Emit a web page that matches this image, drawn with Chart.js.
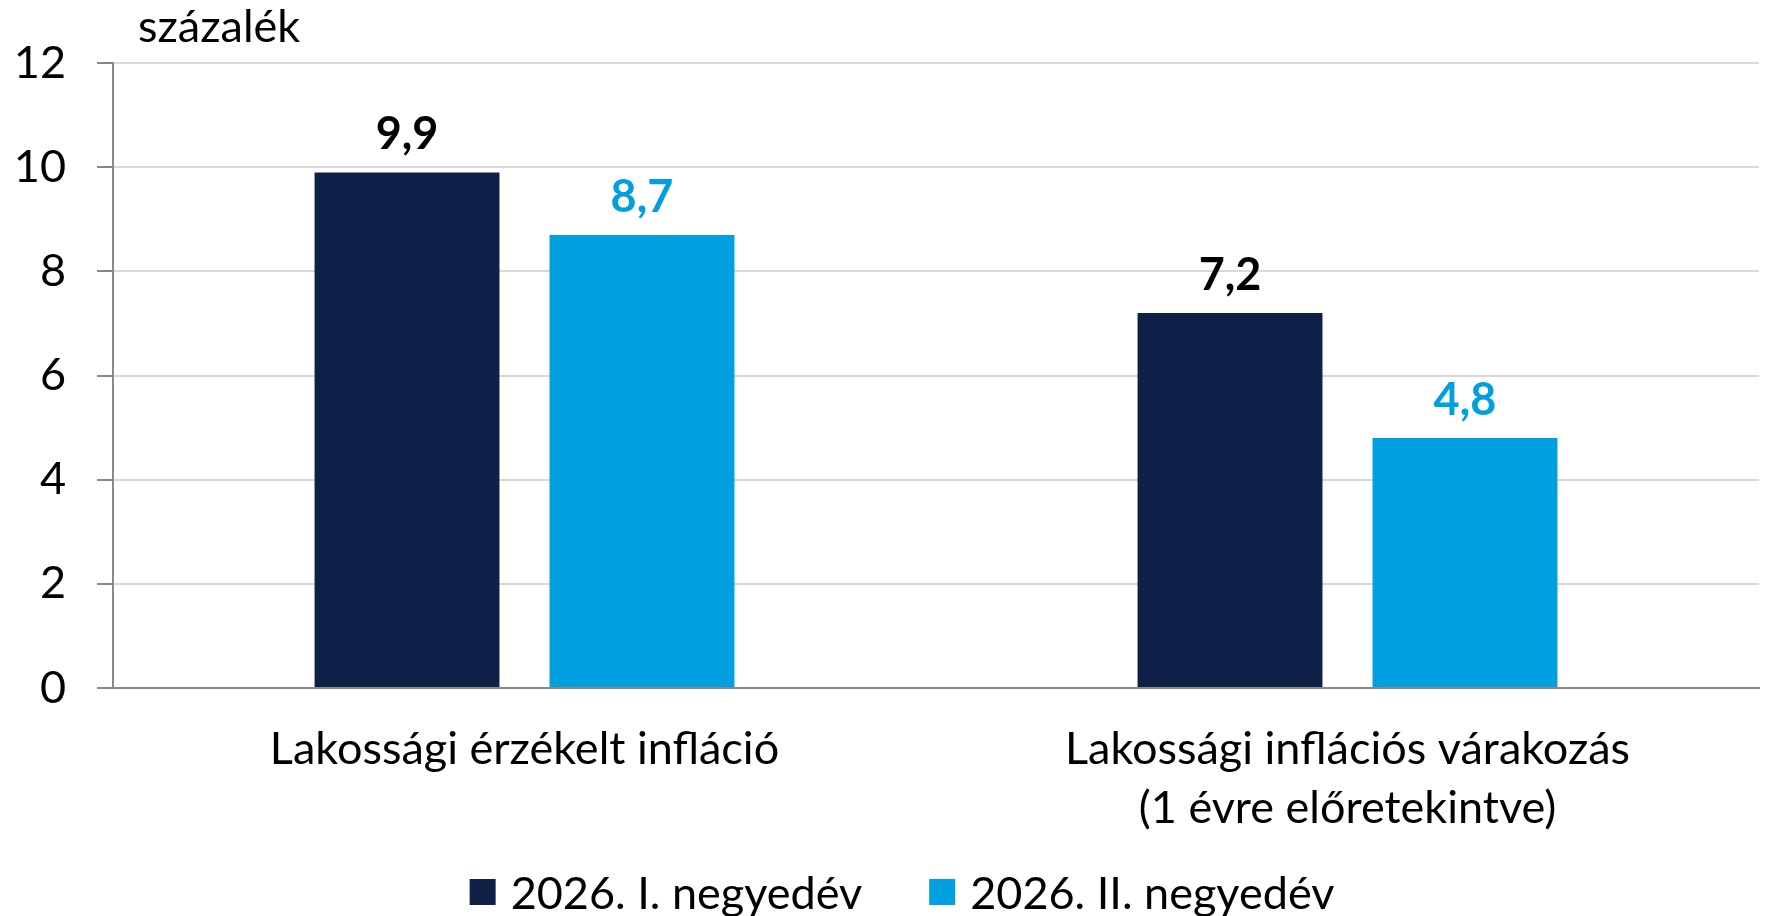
<!DOCTYPE html>
<html>
<head>
<meta charset="utf-8">
<script src="https://cdn.jsdelivr.net/npm/chart.js@4.4.1/dist/chart.umd.min.js"></script>
<style>
    html, body { margin: 0; padding: 0; background: #ffffff; }
    #chart-wrap { width: 1770px; height: 916px; }
</style>
</head>
<body>
<div id="chart-wrap"><canvas id="chart" width="1770" height="916"></canvas></div>
<script>
(function () {
    "use strict";

    var categories = [
        ["Lakossági érzékelt infláció"],
        ["Lakossági inflációs várakozás", "(1 évre előretekintve)"]
    ];
    var seriesNames = ["2026. I. negyedév", "2026. II. negyedév"];
    var q1Values = [9.9, 7.2];
    var q2Values = [8.7, 4.8];
    var yTicks = [0, 2, 4, 6, 8, 10, 12];
    var unitText = "százalék";

    var FONT = "Lato, 'Open Sans', sans-serif";
    var TEXT_SIZE = 45;
    var DARK = "#0e2048";
    var LIGHT = "#009fdf";
    var AXIS = "#898989";
    var GRID = "#d9d9d9";
    var labelColors = ["#000000", LIGHT];

    function formatValue(v) {
        return v.toFixed(1).replace(".", ",");
    }

    var valueLabels = {
        id: "valueLabels",
        afterDatasetsDraw: function (chart) {
            var ctx = chart.ctx;
            ctx.save();
            ctx.font = "bold " + TEXT_SIZE + "px " + FONT;
            ctx.textAlign = "center";
            ctx.textBaseline = "alphabetic";
            chart.data.datasets.forEach(function (ds, i) {
                var meta = chart.getDatasetMeta(i);
                ctx.fillStyle = labelColors[i];
                meta.data.forEach(function (bar, j) {
                    ctx.fillText(formatValue(ds.data[j]), bar.x, bar.y - 23);
                });
            });
            ctx.restore();
        }
    };

    var unitLabel = {
        id: "unitLabel",
        afterDraw: function (chart) {
            var ctx = chart.ctx;
            ctx.save();
            ctx.font = TEXT_SIZE + "px " + FONT;
            ctx.fillStyle = "#000000";
            ctx.textAlign = "left";
            ctx.textBaseline = "alphabetic";
            ctx.fillText(unitText, chart.chartArea.left + 25, chart.chartArea.top - 21);
            ctx.restore();
        }
    };

    var bottomLegend = {
        id: "bottomLegend",
        afterDraw: function (chart) {
            var ctx = chart.ctx;
            var box = 26;
            var gapText = 15;
            var gapItem = 67;
            var centerX = 902;
            var centerY = 892;
            var widths;
            var total = 0;
            var x;

            ctx.save();
            ctx.font = TEXT_SIZE + "px " + FONT;
            widths = chart.data.datasets.map(function (ds) {
                return ctx.measureText(ds.label).width;
            });
            widths.forEach(function (w, i) {
                total += box + gapText + w;
                if (i > 0) {
                    total += gapItem;
                }
            });

            x = centerX - total / 2;
            ctx.textAlign = "left";
            ctx.textBaseline = "middle";
            chart.data.datasets.forEach(function (ds, i) {
                ctx.fillStyle = ds.backgroundColor;
                ctx.fillRect(x, centerY - box / 2, box, box);
                x += box + gapText;
                ctx.fillStyle = "#000000";
                ctx.fillText(ds.label, x, centerY + 2);
                x += widths[i] + gapItem;
            });
            ctx.restore();
        }
    };

    new Chart(document.getElementById("chart"), {
        type: "bar",
        data: {
            labels: categories,
            datasets: [
                {
                    label: seriesNames[0],
                    data: q1Values,
                    backgroundColor: DARK,
                    borderWidth: 0,
                    categoryPercentage: 0.571,
                    barPercentage: 0.787
                },
                {
                    label: seriesNames[1],
                    data: q2Values,
                    backgroundColor: LIGHT,
                    borderWidth: 0,
                    categoryPercentage: 0.571,
                    barPercentage: 0.787
                }
            ]
        },
        options: {
            responsive: false,
            devicePixelRatio: 1,
            animation: false,
            events: [],
            layout: {
                padding: { top: 63, right: 11, bottom: 0, left: 0 }
            },
            plugins: {
                legend: { display: false },
                tooltip: { enabled: false },
                title: { display: false }
            },
            scales: {
                x: {
                    grid: { display: false, drawTicks: false },
                    border: { display: true, color: AXIS, width: 2 },
                    ticks: {
                        color: "#000000",
                        padding: 32,
                        maxRotation: 0,
                        autoSkip: false,
                        font: { family: FONT, size: TEXT_SIZE, lineHeight: 1.31 }
                    },
                    afterFit: function (scale) {
                        scale.height = 228;
                    }
                },
                y: {
                    min: 0,
                    max: 12,
                    afterBuildTicks: function (scale) {
                        scale.ticks = yTicks.map(function (v) {
                            return { value: v };
                        });
                    },
                    grid: {
                        color: function (ctx) {
                            return ctx.tick && ctx.tick.value === 0 ? "rgba(0,0,0,0)" : GRID;
                        },
                        lineWidth: 2,
                        tickLength: 16,
                        tickColor: AXIS,
                        tickWidth: 2
                    },
                    border: { display: true, color: AXIS, width: 2 },
                    ticks: {
                        color: "#000000",
                        padding: 31,
                        font: { family: FONT, size: TEXT_SIZE }
                    },
                    afterFit: function (scale) {
                        scale.width = 113;
                    }
                }
            }
        },
        plugins: [valueLabels, unitLabel, bottomLegend]
    });
})();
</script>
</body>
</html>
